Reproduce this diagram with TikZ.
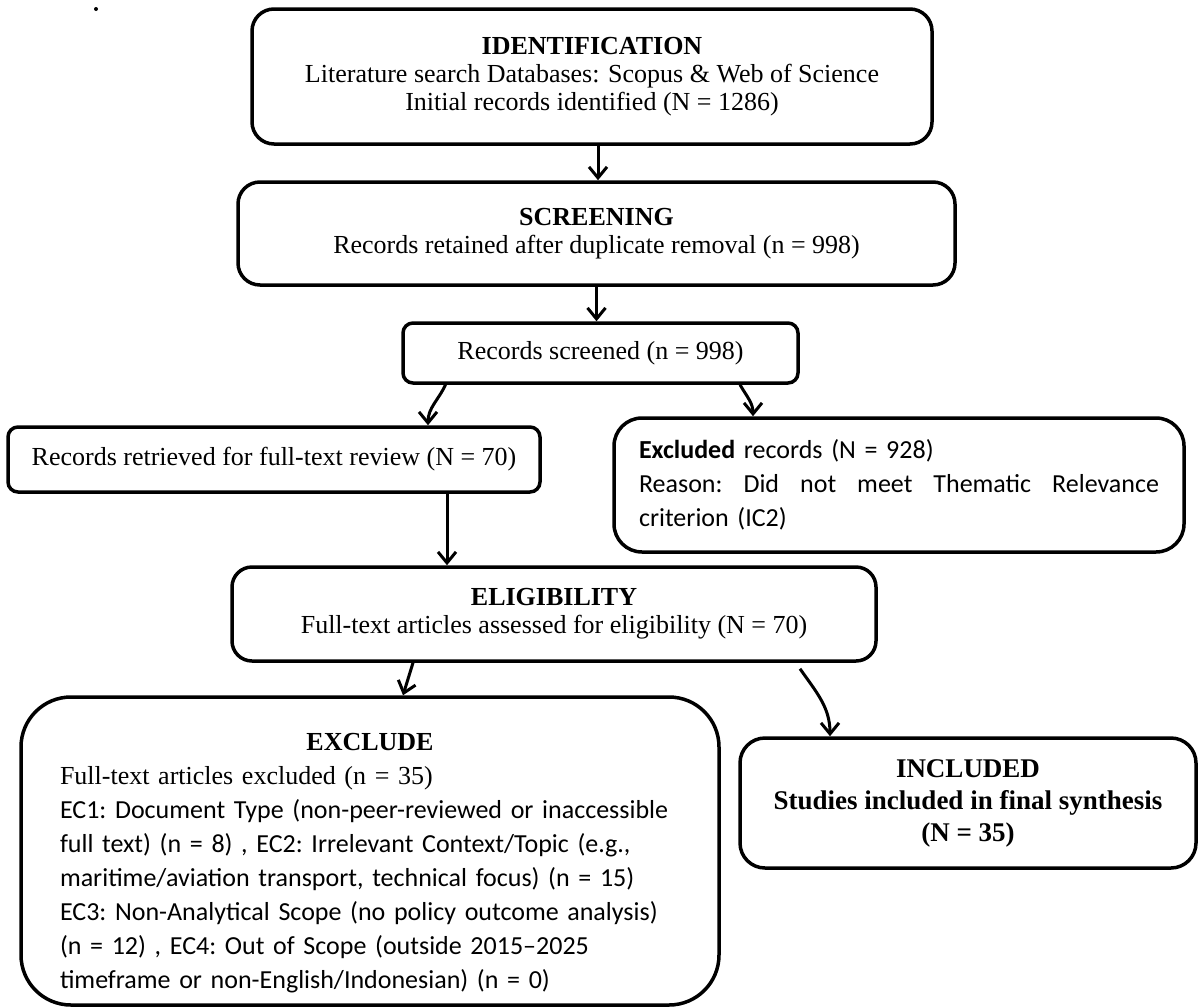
\documentclass[tikz,border=0pt]{standalone}
\usepackage{fontspec}
\setmainfont{Liberation Serif}
\newfontfamily\calib{Carlito}
\usetikzlibrary{arrows.meta,calc}
\begin{document}
\begin{tikzpicture}[x=1pt,y=-1pt,
  box/.style={draw, line width=3.5pt, rounded corners=#1, inner sep=0pt, align=center},
  box/.default=22pt,
  arr/.style={line width=3pt, -{Straight Barb[length=11pt,width=18pt]}},
  serif/.style={font=\fontsize{26}{28}\selectfont},
  sans/.style={font=\frenchspacing\calib\fontsize{26}{34}\selectfont}
]
\useasboundingbox (0,0) rectangle (1199,1007);

\node[circle, fill, inner sep=0pt, minimum size=4pt] (dot) at (96,9) {};

\node[box, serif, minimum width=680pt, minimum height=135pt] (b1) at (592,76.5)
  {\textbf{IDENTIFICATION}\\Literature search Databases: Scopus \& Web of Science\\Initial records identified (N = 1286)};

\node[box, serif, minimum width=717pt, minimum height=103pt] (b2) at (596.5,233.5)
  {\textbf{SCREENING}\\Records retained after duplicate removal (n = 998)};

\node[box=10pt, serif, minimum width=395pt, minimum height=60pt] (b3) at (600.5,353)
  {Records screened (n = 998)};

\node[box=10pt, serif, minimum width=532pt, minimum height=65pt] (b4) at (274,459.5)
  {Records retrieved for full-text review (N = 70)};

\node[box=28pt, sans, align=left, text width=520pt, minimum width=570pt, minimum height=134pt] (b5) at (899,485)
  {\textbf{Excluded} records (N = 928)\\
   \leavevmode\hbox to 520pt{Reason:\hfill Did\hfill not\hfill meet\hfill Thematic\hfill Relevance}\\
   criterion (IC2)};

\node[box=20pt, serif, minimum width=644pt, minimum height=94pt] (b6) at (554,614)
  {\textbf{ELIGIBILITY}\\Full-text articles assessed for eligibility (N = 70)};

\node[box=50pt, sans, align=left, text width=620pt, minimum width=698pt, minimum height=308pt] (b7) at (370,851)
  {\leavevmode\hbox to 620pt{\rule{0pt}{42pt}\hfil\rmfamily\bfseries EXCLUDE\hfil}\\
   {\rmfamily Full-text articles excluded (n = 35)}\\
   EC1: Document Type (non-peer-reviewed or inaccessible\\
   full text) (n = 8) , EC2: Irrelevant Context/Topic (e.g.,\\
   maritime/aviation transport, technical focus) (n = 15)\\
   EC3: Non-Analytical Scope (no policy outcome analysis)\\
   (n = 12) , EC4: Out of Scope (outside 2015–2025\\
   timeframe or non-English/Indonesian) (n = 0)};

\node[box=25pt, font=\bfseries\fontsize{27}{32}\selectfont, minimum width=456pt, minimum height=130pt] (b8) at (968,803)
  {INCLUDED\\Studies included in final synthesis\\(N = 35)};

\coordinate (a1s) at ([xshift=6pt]b1.south);
\draw[arr] (a1s) -- (a1s |- b2.north);
\draw[arr] (b2.south) -- (b2.south |- b3.north);
\draw[arr] ([xshift=-155pt]b3.south) to[out=-115,in=90] ([xshift=154pt]b4.north);
\draw[arr] ([xshift=139.5pt]b3.south) to[out=-60,in=90] ([xshift=-146pt]b5.north);
\coordinate (a5s) at ([xshift=173pt]b4.south);
\draw[arr] (a5s) -- (a5s |- b6.north);
\draw[arr] ([xshift=-141pt]b6.south) -- ([xshift=33pt]b7.north);
\draw[arr] ([xshift=246pt,yshift=-6pt]b6.south) to[out=-55,in=90] ([xshift=-138pt]b8.north);
\end{tikzpicture}
\end{document}
